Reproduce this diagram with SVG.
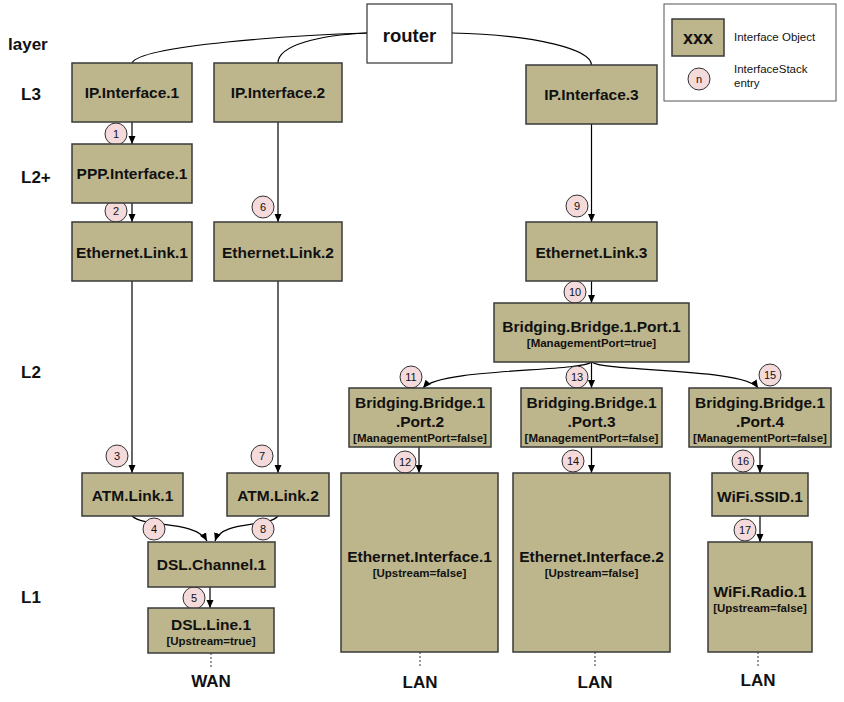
<svg xmlns="http://www.w3.org/2000/svg" width="844" height="702" viewBox="0 0 844 702">
<style>
.box{fill:#BDB68C;stroke:#3a3a3a;stroke-width:1.5}
.t{font-family:"Liberation Sans",Arial,sans-serif;font-weight:bold;font-size:15.5px;fill:#111;text-anchor:middle}
.s{font-family:"Liberation Sans",Arial,sans-serif;font-weight:bold;font-size:11.5px;fill:#111;text-anchor:middle}
.lbl{font-family:"Liberation Sans",Arial,sans-serif;font-weight:bold;font-size:17px;fill:#111}
.end{font-family:"Liberation Sans",Arial,sans-serif;font-weight:bold;font-size:17px;fill:#111;text-anchor:middle}
.leg{font-family:"Liberation Sans",Arial,sans-serif;font-size:11.5px;fill:#111}
.c{fill:#F4DADA;stroke:#333;stroke-width:1}
.n{font-family:"Liberation Sans",Arial,sans-serif;font-size:11px;fill:#111;text-anchor:middle}
.e{fill:none;stroke:#000;stroke-width:1.2}
.a{fill:none;stroke:#000;stroke-width:1.2;marker-end:url(#arr)}
.d{fill:none;stroke:#333;stroke-width:1;stroke-dasharray:2,2}
</style>
<defs>
<marker id="arr" markerUnits="userSpaceOnUse" markerWidth="8" markerHeight="8" refX="8" refY="3.5" orient="auto">
<path d="M0,0 L8,3.5 L0,7 z" fill="#000"/>
</marker>
</defs>
<rect width="844" height="702" fill="#fff"/>

<g id="layer-labels">
<text class="lbl" x="8" y="50">layer</text>
<text class="lbl" x="21" y="100">L3</text>
<text class="lbl" x="21" y="183">L2+</text>
<text class="lbl" x="21" y="378">L2</text>
<text class="lbl" x="21" y="603">L1</text>
</g>

<g id="legend">
<rect x="664" y="4" width="172" height="97" fill="#fff" stroke="#555" stroke-width="1"/>
<rect class="box" x="672" y="19" width="52" height="37"/>
<text class="end" x="698" y="44" style="font-size:18px">xxx</text>
<text class="leg" x="734" y="41">Interface Object</text>
<circle class="c" cx="699" cy="79" r="11"/>
<text class="n" x="699" y="83">n</text>
<text class="leg" x="734" y="73">InterfaceStack</text>
<text class="leg" x="734" y="87">entry</text>
</g>

<g id="connectors">
<path class="e" d="M367,33 C300,35 140,45 132,63"/>
<path class="e" d="M367,33 C320,35 278,45 278,63"/>
<path class="e" d="M452,33 C540,35 591,50 591.5,65"/>
<path class="a" d="M132,122 V144"/>
<path class="a" d="M132,203 V222"/>
<path class="a" d="M278,122 V222"/>
<path class="a" d="M591.5,124 V222"/>
<path class="a" d="M591.5,281 V303"/>
<path class="a" d="M132,281 V473"/>
<path class="a" d="M278,281 V473"/>
<path class="a" d="M132,516 C145,528 195,520 207,541"/>
<path class="a" d="M278,516 C268,528 222,520 215,541"/>
<path class="a" d="M210,587 V608"/>
<path class="a" d="M591.5,362 C580,372 440,368 423,388"/>
<path class="a" d="M591.5,362 V388"/>
<path class="a" d="M591.5,362 C604,372 745,368 758,388"/>
<path class="a" d="M419,447 V473"/>
<path class="a" d="M591.5,447 V473"/>
<path class="a" d="M760,447 V473"/>
<path class="a" d="M760,516 V542"/>
<path class="d" d="M211,653 V668"/>
<path class="d" d="M420,652 V668"/>
<path class="d" d="M595,652 V668"/>
<path class="d" d="M758,652 V668"/>
</g>

<g id="stack-entries">
<circle class="c" cx="116" cy="134" r="11"/><text class="n" x="116" y="138">1</text>
<circle class="c" cx="116" cy="211" r="11"/><text class="n" x="116" y="215">2</text>
<circle class="c" cx="117" cy="456" r="11"/><text class="n" x="117" y="460">3</text>
<circle class="c" cx="154" cy="529" r="11"/><text class="n" x="154" y="533">4</text>
<circle class="c" cx="194" cy="598" r="11"/><text class="n" x="194" y="602">5</text>
<circle class="c" cx="263" cy="207" r="11"/><text class="n" x="263" y="211">6</text>
<circle class="c" cx="262" cy="456" r="11"/><text class="n" x="262" y="460">7</text>
<circle class="c" cx="263" cy="529" r="11"/><text class="n" x="263" y="533">8</text>
<circle class="c" cx="577" cy="206" r="11"/><text class="n" x="577" y="210">9</text>
<circle class="c" cx="575" cy="292" r="11"/><text class="n" x="575" y="296">10</text>
<circle class="c" cx="411" cy="377" r="11"/><text class="n" x="411" y="381">11</text>
<circle class="c" cx="405" cy="462" r="11"/><text class="n" x="405" y="466">12</text>
<circle class="c" cx="577" cy="377" r="11"/><text class="n" x="577" y="381">13</text>
<circle class="c" cx="573" cy="461" r="11"/><text class="n" x="573" y="465">14</text>
<circle class="c" cx="770" cy="375" r="11"/><text class="n" x="770" y="379">15</text>
<circle class="c" cx="743" cy="461" r="11"/><text class="n" x="743" y="465">16</text>
<circle class="c" cx="745" cy="530" r="11"/><text class="n" x="745" y="534">17</text>
</g>

<g id="router"><rect x="367" y="4" width="85" height="59" fill="#fff" stroke="#333" stroke-width="1.2"/><text class="end" x="409.5" y="42" style="font-size:18.5px">router</text></g>
<g id="ip1"><rect class="box" x="72" y="63" width="120" height="59"/><text class="t" x="132" y="98">IP.Interface.1</text></g>
<g id="ip2"><rect class="box" x="214" y="63" width="128" height="59"/><text class="t" x="278" y="98">IP.Interface.2</text></g>
<g id="ip3"><rect class="box" x="526" y="65" width="131" height="59"/><text class="t" x="591.5" y="100">IP.Interface.3</text></g>
<g id="ppp1"><rect class="box" x="72" y="144" width="120" height="59"/><text class="t" x="132" y="179">PPP.Interface.1</text></g>
<g id="eth1"><rect class="box" x="72" y="222" width="120" height="59"/><text class="t" x="132" y="258">Ethernet.Link.1</text></g>
<g id="eth2"><rect class="box" x="214" y="222" width="128" height="59"/><text class="t" x="278" y="258">Ethernet.Link.2</text></g>
<g id="eth3"><rect class="box" x="526" y="222" width="131" height="59"/><text class="t" x="591.5" y="258">Ethernet.Link.3</text></g>
<g id="bp1"><rect class="box" x="494" y="303" width="195" height="59"/><text class="t" x="591.5" y="332">Bridging.Bridge.1.Port.1</text><text class="s" x="591.5" y="347">[ManagementPort=true]</text></g>
<g id="bp2"><rect class="box" x="349" y="388" width="142" height="59"/><text class="t" x="420" y="408">Bridging.Bridge.1</text><text class="t" x="420" y="427">.Port.2</text><text class="s" x="420" y="442">[ManagementPort=false]</text></g>
<g id="bp3"><rect class="box" x="521" y="388" width="141" height="59"/><text class="t" x="591.5" y="408">Bridging.Bridge.1</text><text class="t" x="591.5" y="427">.Port.3</text><text class="s" x="591.5" y="442">[ManagementPort=false]</text></g>
<g id="bp4"><rect class="box" x="689" y="388" width="142" height="59"/><text class="t" x="760" y="408">Bridging.Bridge.1</text><text class="t" x="760" y="427">.Port.4</text><text class="s" x="760" y="442">[ManagementPort=false]</text></g>
<g id="atm1"><rect class="box" x="82" y="473" width="101" height="43"/><text class="t" x="132.5" y="501">ATM.Link.1</text></g>
<g id="atm2"><rect class="box" x="227" y="473" width="102" height="43"/><text class="t" x="278" y="501">ATM.Link.2</text></g>
<g id="dslch"><rect class="box" x="148" y="542" width="127" height="45"/><text class="t" x="211.5" y="570">DSL.Channel.1</text></g>
<g id="dslline"><rect class="box" x="148" y="608" width="126" height="45"/><text class="t" x="211" y="630">DSL.Line.1</text><text class="s" x="211" y="645">[Upstream=true]</text></g>
<g id="ei1"><rect class="box" x="341" y="473" width="157" height="179"/><text class="t" x="419.5" y="562">Ethernet.Interface.1</text><text class="s" x="419.5" y="577">[Upstream=false]</text></g>
<g id="ei2"><rect class="box" x="513" y="473" width="157" height="179"/><text class="t" x="591.5" y="562">Ethernet.Interface.2</text><text class="s" x="591.5" y="577">[Upstream=false]</text></g>
<g id="ssid"><rect class="box" x="712" y="473" width="96" height="43"/><text class="t" x="760" y="502">WiFi.SSID.1</text></g>
<g id="radio"><rect class="box" x="708" y="542" width="104" height="110"/><text class="t" x="760" y="597">WiFi.Radio.1</text><text class="s" x="760" y="612">[Upstream=false]</text></g>

<g id="ends">
<text class="end" x="211" y="687">WAN</text>
<text class="end" x="420" y="688">LAN</text>
<text class="end" x="595" y="688">LAN</text>
<text class="end" x="758" y="686">LAN</text>
</g>
</svg>
